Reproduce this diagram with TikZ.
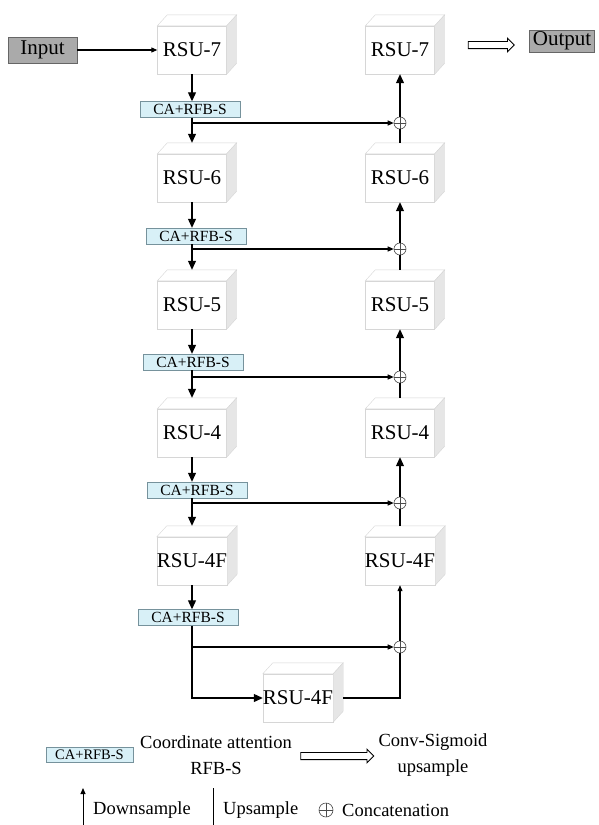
\documentclass[tikz,border=0pt]{standalone}
\usepackage{fontspec}
\setmainfont{Liberation Serif}
\usetikzlibrary{arrows.meta, positioning, shapes.arrows, calc}
\definecolor{cubeedge}{RGB}{214,214,214}
\definecolor{cubeside}{RGB}{230,230,230}
\definecolor{attnfill}{RGB}{216,240,247}
\definecolor{attnedge}{RGB}{118,146,156}
\definecolor{iofill}{RGB}{170,170,170}

\tikzset{
  rsubox/.style={draw=cubeedge, fill=white, minimum width=69pt, minimum height=48pt, inner sep=0pt, font=\fontsize{21}{24}\selectfont},
  attnbox/.style={draw=attnedge, fill=attnfill, minimum width=100pt, minimum height=16pt, inner sep=0pt, font=\fontsize{15.5}{17}\selectfont},
  iobox/.style={draw=black!60, fill=iofill, inner sep=0pt, font=\fontsize{21}{24}\selectfont},
  keytext/.style={inner sep=0pt, font=\fontsize{18.5}{26}\selectfont},
  catnode/.style={circle, draw=black!70, line width=0.6pt, minimum size=12pt, inner sep=0pt,
    path picture={\draw[black!70, line width=0.6pt] (path picture bounding box.north) -- (path picture bounding box.south)
      (path picture bounding box.west) -- (path picture bounding box.east);}},
  flow/.style={line width=1.1pt, -{Triangle[length=9pt,width=8pt]}},
  skiplink/.style={line width=1.1pt, -{Triangle[length=6pt,width=5pt]}},
  bareline/.style={line width=1.1pt},
  hollow/.style={single arrow, draw, fill=white, line width=0.8pt, inner xsep=0pt, inner ysep=3.2pt,
    single arrow head extend=3.2pt, single arrow head indent=0pt},
}

% front face as node, top and side faces drawn round it
\newcommand{\rsucube}[3]{%
  \node[rsubox] (#1) at (#2) {#3};
  \filldraw[fill=white, draw=cubeedge] (#1.north west) -- ++(10,-11) -- ($(#1.north east)+(10,-11)$) -- (#1.north east) -- cycle;
  \filldraw[fill=cubeside, draw=cubeedge] (#1.north east) -- ($(#1.north east)+(10,-11)$) -- ($(#1.south east)+(10,-11)$) -- (#1.south east) -- cycle;
}

\begin{document}
\begin{tikzpicture}[x=1pt, y=-1pt]
\useasboundingbox (0,0) rectangle (598,825);

% encoder
\rsucube{e7}{192,50}{RSU-7}
\rsucube{e6}{192,178}{RSU-6}
\rsucube{e5}{192,305}{RSU-5}
\rsucube{e4}{192,433}{RSU-4}
\rsucube{e4f}{192,561}{RSU-4F}

% decoder
\rsucube{d7}{400,50}{RSU-7}
\rsucube{d6}{400,178}{RSU-6}
\rsucube{d5}{400,305}{RSU-5}
\rsucube{d4}{400,433}{RSU-4}
\rsucube{d4f}{400,561}{RSU-4F}

% bottleneck
\rsucube{mid4f}{298,698}{RSU-4F}

% attention blocks
\node[attnbox] (a1) at (190,109.5) {CA+RFB-S};
\node[attnbox] (a2) at (196,236) {CA+RFB-S};
\node[attnbox] (a3) at (193,362) {CA+RFB-S};
\node[attnbox] (a4) at (197,490) {CA+RFB-S};
\node[attnbox] (a5) at (188,617.5) {CA+RFB-S};

% concatenation points
\node[catnode] (c1) at (400,123) {};
\node[catnode] (c2) at (400,249) {};
\node[catnode] (c3) at (400,377) {};
\node[catnode] (c4) at (400,503) {};
\node[catnode] (c5) at (400,647) {};

% input / output
\node[iobox, minimum width=69pt, minimum height=26pt] (input) at (42.5,50) {Input};
\node[iobox, minimum width=65pt, minimum height=22pt] (output) at (562,41) {Output};
\node[hollow, minimum height=46pt] (outarrow) at (489.5,45) {};
\draw[skiplink] (input.east) -- (e7.west);

% encoder flow
\draw[flow] (e7.south) -- (e7.south |- a1.north);
\draw[flow] (e7.south |- a1.south) -- ($(e6.north)+(0,-11)$);
\draw[flow] (e6.south) -- (e6.south |- a2.north);
\draw[flow] (e6.south |- a2.south) -- ($(e5.north)+(0,-11)$);
\draw[flow] (e5.south) -- (e5.south |- a3.north);
\draw[flow] (e5.south |- a3.south) -- ($(e4.north)+(0,-11)$);
\draw[flow] (e4.south) -- (e4.south |- a4.north);
\draw[flow] (e4.south |- a4.south) -- ($(e4f.north)+(0,-11)$);
\draw[flow] (e4f.south) -- (e4f.south |- a5.north);

% skips
\draw[skiplink] (e7.south |- c1.west) -- (c1.west);
\draw[skiplink] (e6.south |- c2.west) -- (c2.west);
\draw[skiplink] (e5.south |- c3.west) -- (c3.west);
\draw[skiplink] (e4.south |- c4.west) -- (c4.west);
\draw[skiplink] (e4f.south |- c5.west) -- (c5.west);

% bottleneck path
\coordinate (bend) at (e4f.south |- mid4f.west);
\coordinate (rise) at (c5.south |- mid4f.west);
\draw[flow] (e4f.south |- a5.south) -- (bend) -- (mid4f.west);
\draw[bareline] ($(mid4f.east)+(10,0)$) -- (rise) -- (c5.south);
\draw[skiplink] (c5.north) -- (d4f.south);

% decoder flow
\draw[bareline] ($(d4f.north)+(0,-11)$) -- (c4.south);
\draw[flow] (c4.north) -- (d4.south);
\draw[bareline] ($(d4.north)+(0,-11)$) -- (c3.south);
\draw[flow] (c3.north) -- (d5.south);
\draw[bareline] ($(d5.north)+(0,-11)$) -- (c2.south);
\draw[flow] (c2.north) -- (d6.south);
\draw[bareline] ($(d6.north)+(0,-11)$) -- (c1.south);
\draw[flow] (c1.north) -- (d7.south);

% legend
\node[attnbox, minimum width=87pt, minimum height=15pt, font=\fontsize{14.5}{16}\selectfont] (keyattn) at (89.5,754.5) {CA+RFB-S};
\node[keytext, align=center] (keyattntext) at (216,755) {Coordinate attention\\RFB-S};
\node[hollow, minimum height=73pt] (keyarrow) at (335.5,756) {};
\node[keytext, align=center] (keyconv) at (433,755) {Conv-Sigmoid\\upsample};

\coordinate (downfoot) at (83,825);
\coordinate (downtip) at (83,788);
\draw[skiplink, line width=0.9pt] (downfoot) -- (downtip);
\node[keytext, anchor=west] (keydown) at (93,810) {Downsample};
\coordinate (upfoot) at (213,825);
\coordinate (uptop) at (213,788);
\draw[line width=0.9pt] (upfoot) -- (uptop);
\node[keytext, anchor=west] (keyup) at (223,810) {Upsample};
\node[catnode, minimum size=14pt] (keycat) at (326,810) {};
\node[keytext, anchor=west] (keycattext) at (342,810) {Concatenation};
\end{tikzpicture}
\end{document}
